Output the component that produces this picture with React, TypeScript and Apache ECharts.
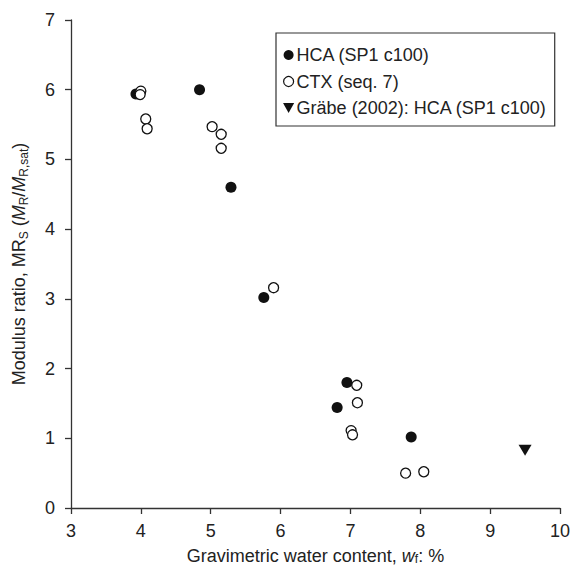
import React, { useEffect, useRef } from "react";
import * as echarts from "echarts";

const hcaX = [3.93, 4.84, 5.29, 5.76, 6.95, 6.81, 7.87];
const hcaY = [5.94, 6.0, 4.6, 3.02, 1.8, 1.44, 1.02];
const ctxX = [4.0, 3.99, 4.07, 4.09, 5.02, 5.15, 5.15, 5.9, 7.09, 7.1, 7.01, 7.03, 7.79, 8.05];
const ctxY = [5.98, 5.93, 5.58, 5.44, 5.47, 5.36, 5.16, 3.16, 1.76, 1.51, 1.11, 1.05, 0.5, 0.52];
const grabeX = [9.5];
const grabeY = [0.83];
const seriesNames = ["HCA (SP1 c100)", "CTX (seq. 7)", "Gräbe (2002): HCA (SP1 c100)"];

const FONT = "'Liberation Sans', Arial, sans-serif";
const TXT = "#222";
const AX = "#333";
const tri = "path://M0,0 L10,0 L5,9 Z";

const zip = (xs: number[], ys: number[]) => xs.map((x, i) => [x, ys[i]]);

export default function App() {
  const ref = useRef<HTMLDivElement>(null);
  useEffect(() => {
    if (!ref.current) return;
    const chart = echarts.init(ref.current, null, { renderer: "svg" });
    const richY = {
      it: { fontStyle: "italic", fontSize: 18, color: TXT, fontFamily: FONT },
      sub: { fontSize: 12, color: TXT, fontFamily: FONT, padding: [10, 0, 0, 0] },
    };
    const richX = {
      it: { fontStyle: "italic", fontSize: 18, color: TXT, fontFamily: FONT },
      sub: { fontSize: 12, color: TXT, fontFamily: FONT, padding: [7, 0, 0, 0] },
    };
    const axisCommon = {
      axisLine: { show: true, lineStyle: { color: AX, width: 1.3 } },
      axisTick: { show: true, inside: false, length: 6, lineStyle: { color: AX, width: 1.3 } },
      splitLine: { show: false },
    };
    chart.setOption({
      animation: false,
      backgroundColor: "#fff",
      textStyle: { fontFamily: FONT },
      grid: { left: 71, right: 13, top: 20, bottom: 61, containLabel: false, outerBoundsMode: "none" },
      xAxis: {
        type: "value",
        min: 3,
        max: 10,
        interval: 1,
        ...axisCommon,
        axisLabel: { color: TXT, fontSize: 18, fontFamily: FONT, margin: 14 },
        name: "Gravimetric water content, {it|w}{sub|f}: %",
        nameLocation: "middle",
        nameGap: 38,
        nameTextStyle: { color: TXT, fontSize: 18, fontFamily: FONT, rich: richX },
      },
      yAxis: {
        type: "value",
        min: 0,
        max: 7,
        interval: 1,
        ...axisCommon,
        axisLabel: { color: TXT, fontSize: 18, fontFamily: FONT, margin: 16 },
        name: "Modulus ratio, MR{sub|S} ({it|M}{sub|R}/{it|M}{sub|R,sat})",
        nameLocation: "middle",
        nameGap: 41,
        nameRotate: 90,
        nameTextStyle: { color: TXT, fontSize: 18, fontFamily: FONT, rich: richY },
      },
      legend: {
        orient: "vertical",
        left: 276,
        top: 33,
        padding: [12, 8, 8, 7],
        itemGap: 6.5,
        itemWidth: 12,
        itemHeight: 10,
        borderColor: AX,
        borderWidth: 1.2,
        borderRadius: 0,
        textStyle: { color: TXT, fontSize: 18, fontFamily: FONT, padding: [0, 0, 0, -3], lineHeight: 20 },
        data: [
          { name: seriesNames[0], icon: "circle", itemStyle: { color: "#111", borderWidth: 0 } },
          { name: seriesNames[1], icon: "circle", itemStyle: { color: "#fff", borderColor: "#111", borderWidth: 1.2 } },
          { name: seriesNames[2], icon: tri, itemStyle: { color: "#111", borderWidth: 0 } },
        ],
      },
      series: [
        {
          name: seriesNames[0],
          type: "scatter",
          symbol: "circle",
          symbolSize: 11,
          itemStyle: { color: "#111", opacity: 1 },
          data: zip(hcaX, hcaY),
          z: 2,
        },
        {
          name: seriesNames[1],
          type: "scatter",
          symbol: "circle",
          symbolSize: 10,
          itemStyle: { color: "#fff", borderColor: "#111", borderWidth: 1.3, opacity: 1 },
          data: zip(ctxX, ctxY),
          z: 3,
        },
        {
          name: seriesNames[2],
          type: "scatter",
          symbol: tri,
          symbolSize: [13, 11],
          itemStyle: { color: "#111", opacity: 1 },
          data: zip(grabeX, grabeY),
          z: 2,
        },
      ],
    });
    return () => chart.dispose();
  }, []);
  return (
    <div
      ref={ref}
      style={{ position: "fixed", left: 0, top: 0, width: 573, height: 569, background: "#fff" }}
    />
  );
}
